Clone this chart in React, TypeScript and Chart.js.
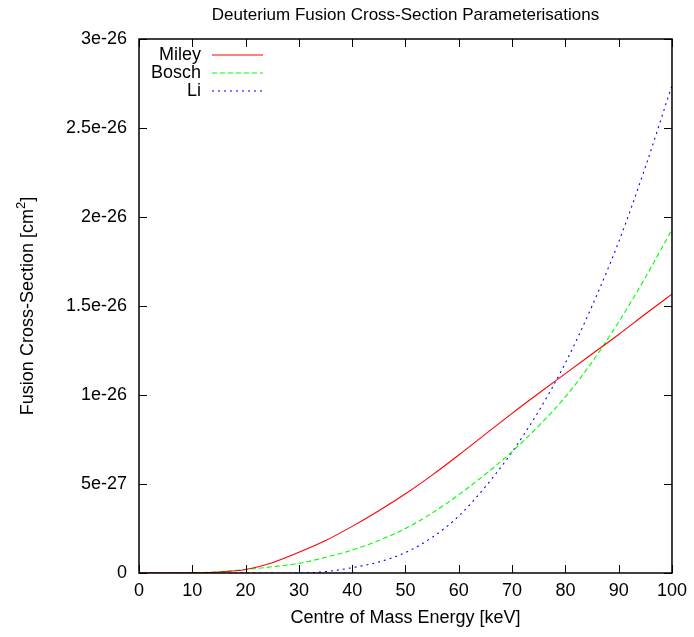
import React, { useEffect, useRef } from "react";
import { Chart, registerables } from "chart.js";

Chart.register(...registerables);

// Energies in keV
const energies = [0, 5, 10, 15, 20, 25, 30, 35, 40, 45, 50, 55, 60, 65, 70, 75, 80, 85, 90, 95, 100];
// Cross-sections in units of 1e-27 cm^2
const UNIT = 1e-27;
const miley = [0, 0, 0.01, 0.06, 0.2, 0.58, 1.16, 1.82, 2.62, 3.5, 4.45, 5.5, 6.63, 7.8, 8.97, 10.1, 11.2, 12.3, 13.4, 14.55, 15.67];
const bosch = [0, 0, 0.01, 0.07, 0.2, 0.35, 0.54, 0.88, 1.29, 1.83, 2.5, 3.37, 4.4, 5.55, 6.82, 8.27, 9.9, 11.85, 14.1, 16.6, 19.3];
const li = [0, 0, 0, 0, 0, 0, 0, 0.08, 0.3, 0.62, 1.15, 2.0, 3.2, 4.85, 6.8, 9.1, 11.8, 15.0, 18.6, 22.8, 27.4];

const seriesNames = ["Miley", "Bosch", "Li"];
const seriesColors = ["#ff0000", "#00ff00", "#0000ff"];
const seriesDashes: number[][] = [[], [5, 3], [2, 4]];

const xTicks = [0, 10, 20, 30, 40, 50, 60, 70, 80, 90, 100];
const yTicksUnits = [0, 5, 10, 15, 20, 25, 30];

const titleText = "Deuterium Fusion Cross-Section Parameterisations";
const xTitle = "Centre of Mass Energy [keV]";
const yTitleMain = "Fusion Cross-Section [cm";
const yTitleSup = "2";
const yTitleEnd = "]";

const FONT = "'Liberation Sans', Arial, Helvetica, sans-serif";

function fmtY(value: number): string {
  const v = Math.round(value / UNIT);
  if (v === 0) return "0";
  if (v < 10) return `${v}e-27`;
  return `${v / 10}e-26`;
}

const framePlugin = {
  id: "gnuframe",
  afterDatasetsDraw(chart: any) {
    const ctx: CanvasRenderingContext2D = chart.ctx;
    const { left, right, top, bottom } = chart.chartArea;
    const xs = chart.scales.x;
    const ys = chart.scales.y;

    // Frame
    ctx.save();
    ctx.setLineDash([]);
    ctx.strokeStyle = "#000000";
    ctx.lineWidth = 1.5;
    ctx.strokeRect(left, top, right - left, bottom - top);
    const tl = 8;
    ctx.lineWidth = 1;
    ctx.beginPath();
    xTicks.forEach((t) => {
      const px = Math.round(xs.getPixelForValue(t)) + 0.5;
      ctx.moveTo(px, bottom);
      ctx.lineTo(px, bottom - tl);
      ctx.moveTo(px, top);
      ctx.lineTo(px, top + tl);
    });
    yTicksUnits.forEach((t) => {
      const py = Math.round(ys.getPixelForValue(t * UNIT)) + 0.5;
      ctx.moveTo(left, py);
      ctx.lineTo(left + tl, py);
      ctx.moveTo(right, py);
      ctx.lineTo(right - tl, py);
    });
    ctx.stroke();
    ctx.restore();

    // Legend samples (gnuplot style)
    const rowY = [55, 73, 91];
    for (let i = 0; i < seriesNames.length; i++) {
      ctx.save();
      ctx.lineWidth = 1.1;
      ctx.setLineDash(seriesDashes[i]);
      ctx.strokeStyle = seriesColors[i];
      ctx.beginPath();
      ctx.moveTo(212, rowY[i]);
      ctx.lineTo(263, rowY[i]);
      ctx.stroke();
      ctx.restore();
    }

    // Legend text
    ctx.save();
    ctx.font = `18px ${FONT}`;
    ctx.fillStyle = "#000000";
    ctx.textBaseline = "middle";
    ctx.textAlign = "right";
    seriesNames.forEach((n, i) => ctx.fillText(n, 201, rowY[i]));

    // Title
    ctx.textAlign = "center";
    ctx.textBaseline = "alphabetic";
    ctx.font = `17px ${FONT}`;
    ctx.fillText(titleText, (left + right) / 2, 20);

    // X title
    ctx.font = `18px ${FONT}`;
    ctx.fillText(xTitle, (left + right) / 2, 623);

    // Y title with superscript
    ctx.translate(33, (top + bottom) / 2);
    ctx.rotate(-Math.PI / 2);
    ctx.font = `18px ${FONT}`;
    const wMain = ctx.measureText(yTitleMain).width;
    ctx.font = `13px ${FONT}`;
    const wSup = ctx.measureText(yTitleSup).width;
    ctx.font = `18px ${FONT}`;
    const wEnd = ctx.measureText(yTitleEnd).width;
    const total = wMain + wSup + wEnd;
    let x0 = -total / 2;
    ctx.textAlign = "left";
    ctx.fillText(yTitleMain, x0, 0);
    x0 += wMain;
    ctx.font = `13px ${FONT}`;
    ctx.fillText(yTitleSup, x0, -8);
    x0 += wSup;
    ctx.font = `18px ${FONT}`;
    ctx.fillText(yTitleEnd, x0, 0);
    ctx.restore();
  },
};

export default function App() {
  const ref = useRef<HTMLCanvasElement>(null);
  useEffect(() => {
    if (!ref.current) return;
    const series = [miley, bosch, li];
    const chart = new Chart(ref.current, {
      type: "line",
      data: {
        datasets: series.map((s, i) => ({
          label: seriesNames[i],
          data: energies.map((e, j) => ({ x: e, y: s[j] * UNIT })),
          borderColor: seriesColors[i],
          borderWidth: 1.1,
          borderDash: seriesDashes[i],
          pointRadius: 0,
          fill: false,
          cubicInterpolationMode: "monotone",
        })),
      },
      options: {
        animation: false,
        responsive: false,
        layout: { padding: { top: 39, right: 22, left: 0, bottom: 0 } },
        plugins: {
          legend: { display: false },
          title: { display: false },
          tooltip: { enabled: false },
        },
        scales: {
          x: {
            type: "linear",
            min: 0,
            max: 100,
            grid: { display: false, drawTicks: false },
            border: { display: false },
            afterFit: (s: any) => {
              s.height = 64;
            },
            afterBuildTicks: (s: any) => {
              s.ticks = xTicks.map((v) => ({ value: v }));
            },
            ticks: {
              padding: 7,
              maxRotation: 0,
              autoSkip: false,
              color: "#000",
              font: { family: FONT, size: 18 },
            },
          },
          y: {
            type: "linear",
            min: 0,
            max: 30 * UNIT,
            grid: { display: false, drawTicks: false },
            border: { display: false },
            afterFit: (s: any) => {
              s.width = 139;
            },
            afterBuildTicks: (s: any) => {
              s.ticks = yTicksUnits.map((v) => ({ value: v * UNIT }));
            },
            ticks: {
              padding: 12,
              autoSkip: false,
              color: "#000",
              font: { family: FONT, size: 18 },
              callback: (v: any) => fmtY(Number(v)),
            },
          },
        },
      },
      plugins: [framePlugin],
    });
    return () => chart.destroy();
  }, []);
  return (
    <div style={{ position: "absolute", left: 0, top: 0, width: 694, height: 637, background: "#fff" }}>
      <canvas ref={ref} width={694} height={637} />
    </div>
  );
}
